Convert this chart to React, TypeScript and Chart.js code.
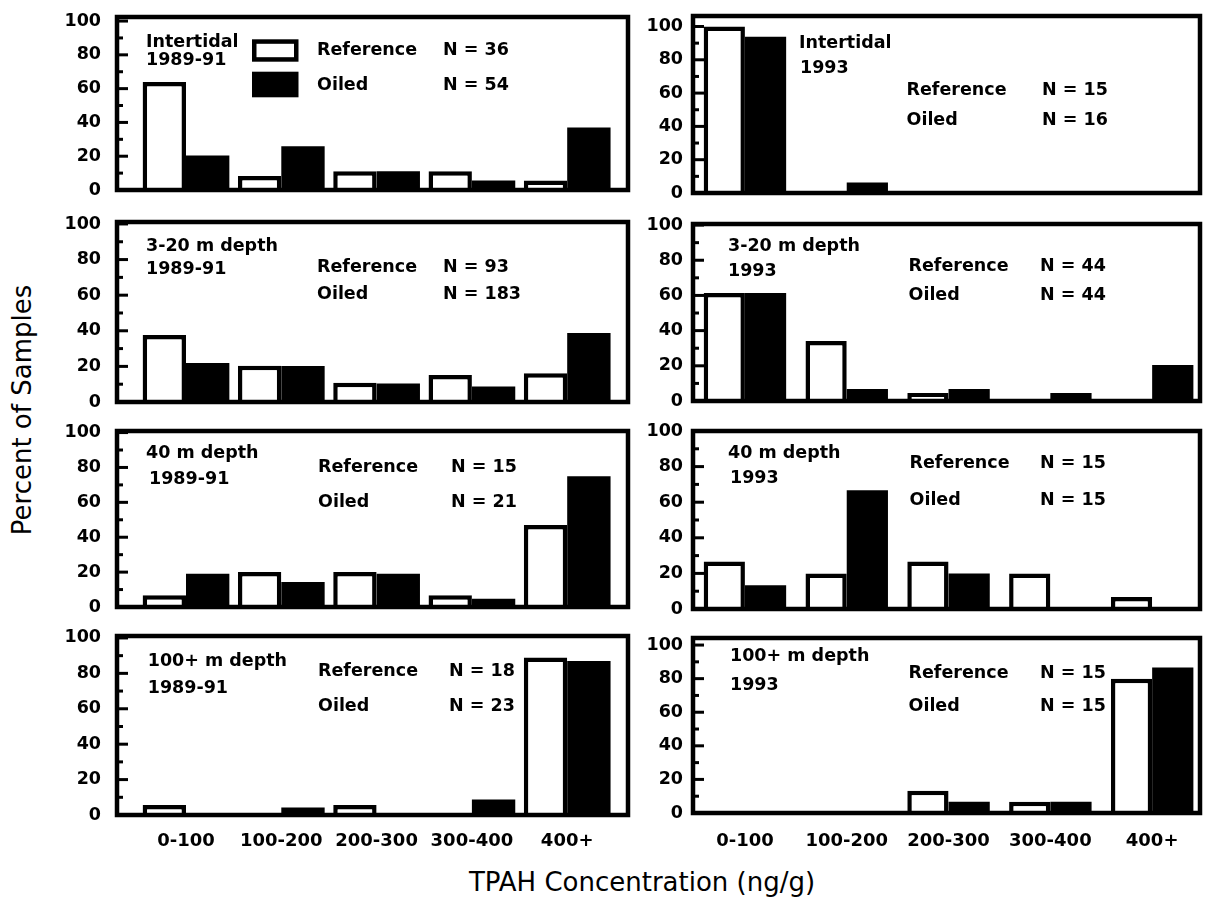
import React, { useEffect, useRef } from "react";
import { Chart, registerables } from "chart.js";

Chart.register(...registerables);

// ---------- data ----------
const categories = ["0-100", "100-200", "200-300", "300-400", "400+"];
const yTickValues = [0, 20, 40, 60, 80, 100];

const intertidal8991Reference = [63.9, 8.3, 11.1, 11.1, 5.6];
const intertidal8991Oiled = [20.4, 25.9, 11.1, 5.6, 37.0];
const intertidal93Reference = [100, 0, 0, 0, 0];
const intertidal93Oiled = [93.8, 6.3, 0, 0, 0];
const depth3to20_8991Reference = [37.6, 20.4, 10.8, 15.1, 16.1];
const depth3to20_8991Oiled = [21.9, 20.2, 10.4, 8.7, 38.8];
const depth3to20_93Reference = [61.4, 34.1, 4.5, 0, 0];
const depth3to20_93Oiled = [61.4, 6.8, 6.8, 4.5, 20.5];
const depth40_8991Reference = [6.7, 20.0, 20.0, 6.7, 47.0];
const depth40_8991Oiled = [19.0, 14.3, 19.0, 4.8, 75.0];
const depth40_93Reference = [26.7, 20.0, 26.7, 20.0, 6.7];
const depth40_93Oiled = [13.3, 66.7, 20.0, 0, 0];
const depth100_8991Reference = [5.6, 0, 5.6, 0, 88.9];
const depth100_8991Oiled = [0, 4.3, 0, 8.7, 87.0];
const depth100_93Reference = [0, 0, 13.3, 6.7, 80.0];
const depth100_93Oiled = [0, 0, 6.7, 6.7, 86.7];

const referenceLabel = "Reference";
const oiledLabel = "Oiled";
const yAxisTitle = "Percent of Samples";
const xAxisTitle = "TPAH Concentration (ng/g)";

// ---------- layout ----------
const FONT = '"DejaVu Sans", "Liberation Sans", Arial, sans-serif';

const columns = [
  { xMin: -0.724, xMax: 4.638, catPct: 0.91, tickPad: 16, axisW: 80, padRight: 8 },
  { xMin: -0.51, xMax: 4.47, catPct: 0.81, tickPad: 10, axisW: 56, padRight: 4 },
];

type Panel = {
  col: number;
  row: number;
  ref: number[];
  oil: number[];
  title: [string, string];
  nRef: string;
  nOil: string;
  geo: { left: number; right: number; top: number; bottom: number; yMax: number };
  txt: { tx: number; tx2: number; ty1: number; ty2: number; lx: number; nx: number; ry: number; oy: number };
  legend?: boolean;
};

const panels: Panel[] = [
  {
    col: 0, row: 0, ref: intertidal8991Reference, oil: intertidal8991Oiled,
    title: ["Intertidal", "1989-91"], nRef: "N = 36", nOil: "N = 54",
    geo: { left: 117, right: 628, top: 17, bottom: 190, yMax: 102.4 },
    txt: { tx: 29, tx2: 29, ty1: 25, ty2: 43.5, lx: 200, nx: 326, ry: 33, oy: 68 },
    legend: true,
  },
  {
    col: 1, row: 0, ref: intertidal93Reference, oil: intertidal93Oiled,
    title: ["Intertidal", "1993"], nRef: "N = 15", nOil: "N = 16",
    geo: { left: 693, right: 1200, top: 15.5, bottom: 192, yMax: 106.3 },
    txt: { tx: 106, tx2: 107, ty1: 27.5, ty2: 52, lx: 213.5, nx: 349, ry: 74.5, oy: 104.5 },
  },
  {
    col: 0, row: 1, ref: depth3to20_8991Reference, oil: depth3to20_8991Oiled,
    title: ["3-20 m depth", "1989-91"], nRef: "N = 93", nOil: "N = 183",
    geo: { left: 117, right: 628, top: 222, bottom: 402, yMax: 101.1 },
    txt: { tx: 29, tx2: 29, ty1: 24, ty2: 47, lx: 200, nx: 326, ry: 45, oy: 72 },
  },
  {
    col: 1, row: 1, ref: depth3to20_93Reference, oil: depth3to20_93Oiled,
    title: ["3-20 m depth", "1993"], nRef: "N = 44", nOil: "N = 44",
    geo: { left: 693, right: 1200, top: 224, bottom: 401, yMax: 100.6 },
    txt: { tx: 35, tx2: 35, ty1: 22.7, ty2: 47.7, lx: 215.5, nx: 347, ry: 42.7, oy: 71 },
  },
  {
    col: 0, row: 2, ref: depth40_8991Reference, oil: depth40_8991Oiled,
    title: ["40 m depth", "1989-91"], nRef: "N = 15", nOil: "N = 21",
    geo: { left: 117, right: 628, top: 430.5, bottom: 606.5, yMax: 100.9 },
    txt: { tx: 29, tx2: 32, ty1: 22.8, ty2: 48.5, lx: 201, nx: 334, ry: 36.2, oy: 71.2 },
  },
  {
    col: 1, row: 2, ref: depth40_93Reference, oil: depth40_93Oiled,
    title: ["40 m depth", "1993"], nRef: "N = 15", nOil: "N = 15",
    geo: { left: 693, right: 1200, top: 431, bottom: 609, yMax: 100 },
    txt: { tx: 35, tx2: 37, ty1: 22, ty2: 47, lx: 216.5, nx: 347, ry: 32, oy: 69 },
  },
  {
    col: 0, row: 3, ref: depth100_8991Reference, oil: depth100_8991Oiled,
    title: ["100+ m depth", "1989-91"], nRef: "N = 18", nOil: "N = 23",
    geo: { left: 117, right: 628, top: 636, bottom: 815, yMax: 101.1 },
    txt: { tx: 30.7, tx2: 30.7, ty1: 25.7, ty2: 52, lx: 201, nx: 332, ry: 35.7, oy: 70.7 },
  },
  {
    col: 1, row: 3, ref: depth100_93Reference, oil: depth100_93Oiled,
    title: ["100+ m depth", "1993"], nRef: "N = 15", nOil: "N = 15",
    geo: { left: 693, right: 1200, top: 638, bottom: 813, yMax: 104.2 },
    txt: { tx: 37, tx2: 37, ty1: 18.7, ty2: 47, lx: 215.5, nx: 347, ry: 35, oy: 68.7 },
  },
];

const X_LABEL_CENTER = 841;

function zeroPadding(s: any) {
  s.paddingTop = 0;
  s.paddingBottom = 0;
  s.paddingLeft = 0;
  s.paddingRight = 0;
}

function PanelChart({ p }: { p: Panel }) {
  const ref = useRef<HTMLCanvasElement | null>(null);
  const c = columns[p.col];
  const g = p.geo;
  const isBottom = p.row === 3;
  const padTop = 12;
  const padBottom = isBottom ? 0 : 8;
  const xAxisH = isBottom ? 52 : 0;
  const width = Math.round(c.axisW + (g.right - g.left) + c.padRight);
  const height = Math.round(padTop + (g.bottom - g.top) + xAxisH + padBottom);
  const canvasLeft = g.left - c.axisW;
  const canvasTop = g.top - padTop;

  useEffect(() => {
    if (!ref.current) return;
    const deco = {
      id: "panelDeco",
      afterDatasetsDraw(chart: any) {
        const { ctx, chartArea: a } = chart;
        const y = chart.scales.y;
        ctx.save();
        ctx.strokeStyle = "#000";
        ctx.lineCap = "butt";
        // inward ticks
        ctx.lineWidth = 3;
        for (let v = 10; v <= 100; v += 10) {
          const py = y.getPixelForValue(v);
          const len = v % 20 === 0 ? 11 : 6;
          ctx.beginPath();
          ctx.moveTo(a.left, py);
          ctx.lineTo(a.left + len, py);
          ctx.stroke();
        }
        // frame
        ctx.lineWidth = 4.5;
        ctx.strokeRect(a.left, a.top, a.right - a.left, a.bottom - a.top);
        // texts
        const t = p.txt;
        ctx.fillStyle = "#000";
        ctx.font = `bold 17.5px ${FONT}`;
        ctx.textBaseline = "middle";
        ctx.textAlign = "left";
        ctx.fillText(p.title[0], a.left + t.tx, a.top + t.ty1);
        ctx.fillText(p.title[1], a.left + t.tx2, a.top + t.ty2);
        ctx.fillText(referenceLabel, a.left + t.lx, a.top + t.ry);
        ctx.fillText(oiledLabel, a.left + t.lx, a.top + t.oy);
        ctx.fillText(p.nRef, a.left + t.nx, a.top + t.ry);
        ctx.fillText(p.nOil, a.left + t.nx, a.top + t.oy);
        if (p.legend) {
          const bx = a.left + 135;
          ctx.fillStyle = "#000";
          ctx.fillRect(bx, a.top + 22.3, 46.5, 22.4);
          ctx.fillStyle = "#fff";
          ctx.fillRect(bx + 4.5, a.top + 22.3 + 4.5, 46.5 - 9, 22.4 - 9);
          ctx.fillStyle = "#000";
          ctx.fillRect(bx, a.top + 54.7, 46.5, 25.6);
        }
        ctx.restore();
      },
    };

    const chart = new Chart(ref.current, {
      type: "bar",
      data: {
        datasets: [
          {
            label: referenceLabel,
            data: p.ref.map((v, i) => ({ x: i, y: v })),
            backgroundColor: "#ffffff",
            borderColor: "#000000",
            borderWidth: 4.5,
            borderSkipped: "start",
            categoryPercentage: c.catPct,
            barPercentage: 1,
          },
          {
            label: oiledLabel,
            data: p.oil.map((v, i) => ({ x: i, y: v })),
            backgroundColor: "#000000",
            borderWidth: 0,
            categoryPercentage: c.catPct,
            barPercentage: 1,
          },
        ],
      } as any,
      options: {
        responsive: false,
        animation: false,
        events: [],
        layout: {
          autoPadding: false,
          padding: { top: padTop, right: c.padRight, bottom: padBottom, left: 0 },
        },
        plugins: {
          legend: { display: false },
          tooltip: { enabled: false },
          title: { display: false },
        },
        scales: {
          x: {
            type: "linear",
            min: c.xMin,
            max: c.xMax,
            offset: false,
            grid: { display: false, drawTicks: false },
            border: { display: false },
            afterBuildTicks: (s: any) => {
              s.ticks = categories.map((_, i) => ({ value: i }));
            },
            afterFit: (s: any) => {
              s.height = xAxisH;
              zeroPadding(s);
            },
            ticks: {
              display: isBottom,
              autoSkip: false,
              maxRotation: 0,
              minRotation: 0,
              padding: X_LABEL_CENTER - 10.8 - g.bottom,
              color: "#000",
              font: { family: FONT, size: 18, weight: "bold" },
              callback: (v: any) => categories[Math.round(Number(v))] ?? "",
            },
          },
          y: {
            type: "linear",
            min: 0,
            max: g.yMax,
            grid: { display: false, drawTicks: false },
            border: { display: false },
            afterBuildTicks: (s: any) => {
              s.ticks = yTickValues.map((v) => ({ value: v }));
            },
            afterFit: (s: any) => {
              s.width = c.axisW;
              zeroPadding(s);
            },
            ticks: {
              padding: c.tickPad,
              color: "#000",
              font: { family: FONT, size: 17.5, weight: "bold" },
              callback: (v: any) => String(v),
            },
          },
        },
      } as any,
      plugins: [deco],
    });
    return () => chart.destroy();
  }, []);

  return (
    <canvas
      ref={ref}
      width={width}
      height={height}
      style={{ position: "absolute", left: canvasLeft, top: canvasTop, width, height }}
    />
  );
}

export default function App() {
  return (
    <div
      style={{
        position: "fixed",
        left: 0,
        top: 0,
        width: 1205,
        height: 901,
        background: "#fff",
        overflow: "hidden",
      }}
    >
      {panels.map((p, i) => (
        <PanelChart key={i} p={p} />
      ))}
      <div
        style={{
          position: "absolute",
          left: 21.5,
          top: 410,
          transform: "translate(-50%, -50%) rotate(-90deg)",
          fontFamily: FONT,
          fontSize: 26,
          lineHeight: 1,
          whiteSpace: "nowrap",
          color: "#000",
        }}
      >
        {yAxisTitle}
      </div>
      <div
        style={{
          position: "absolute",
          left: 642,
          top: 882,
          transform: "translate(-50%, -50%)",
          fontFamily: FONT,
          fontSize: 26,
          lineHeight: 1,
          whiteSpace: "nowrap",
          color: "#000",
        }}
      >
        {xAxisTitle}
      </div>
    </div>
  );
}
